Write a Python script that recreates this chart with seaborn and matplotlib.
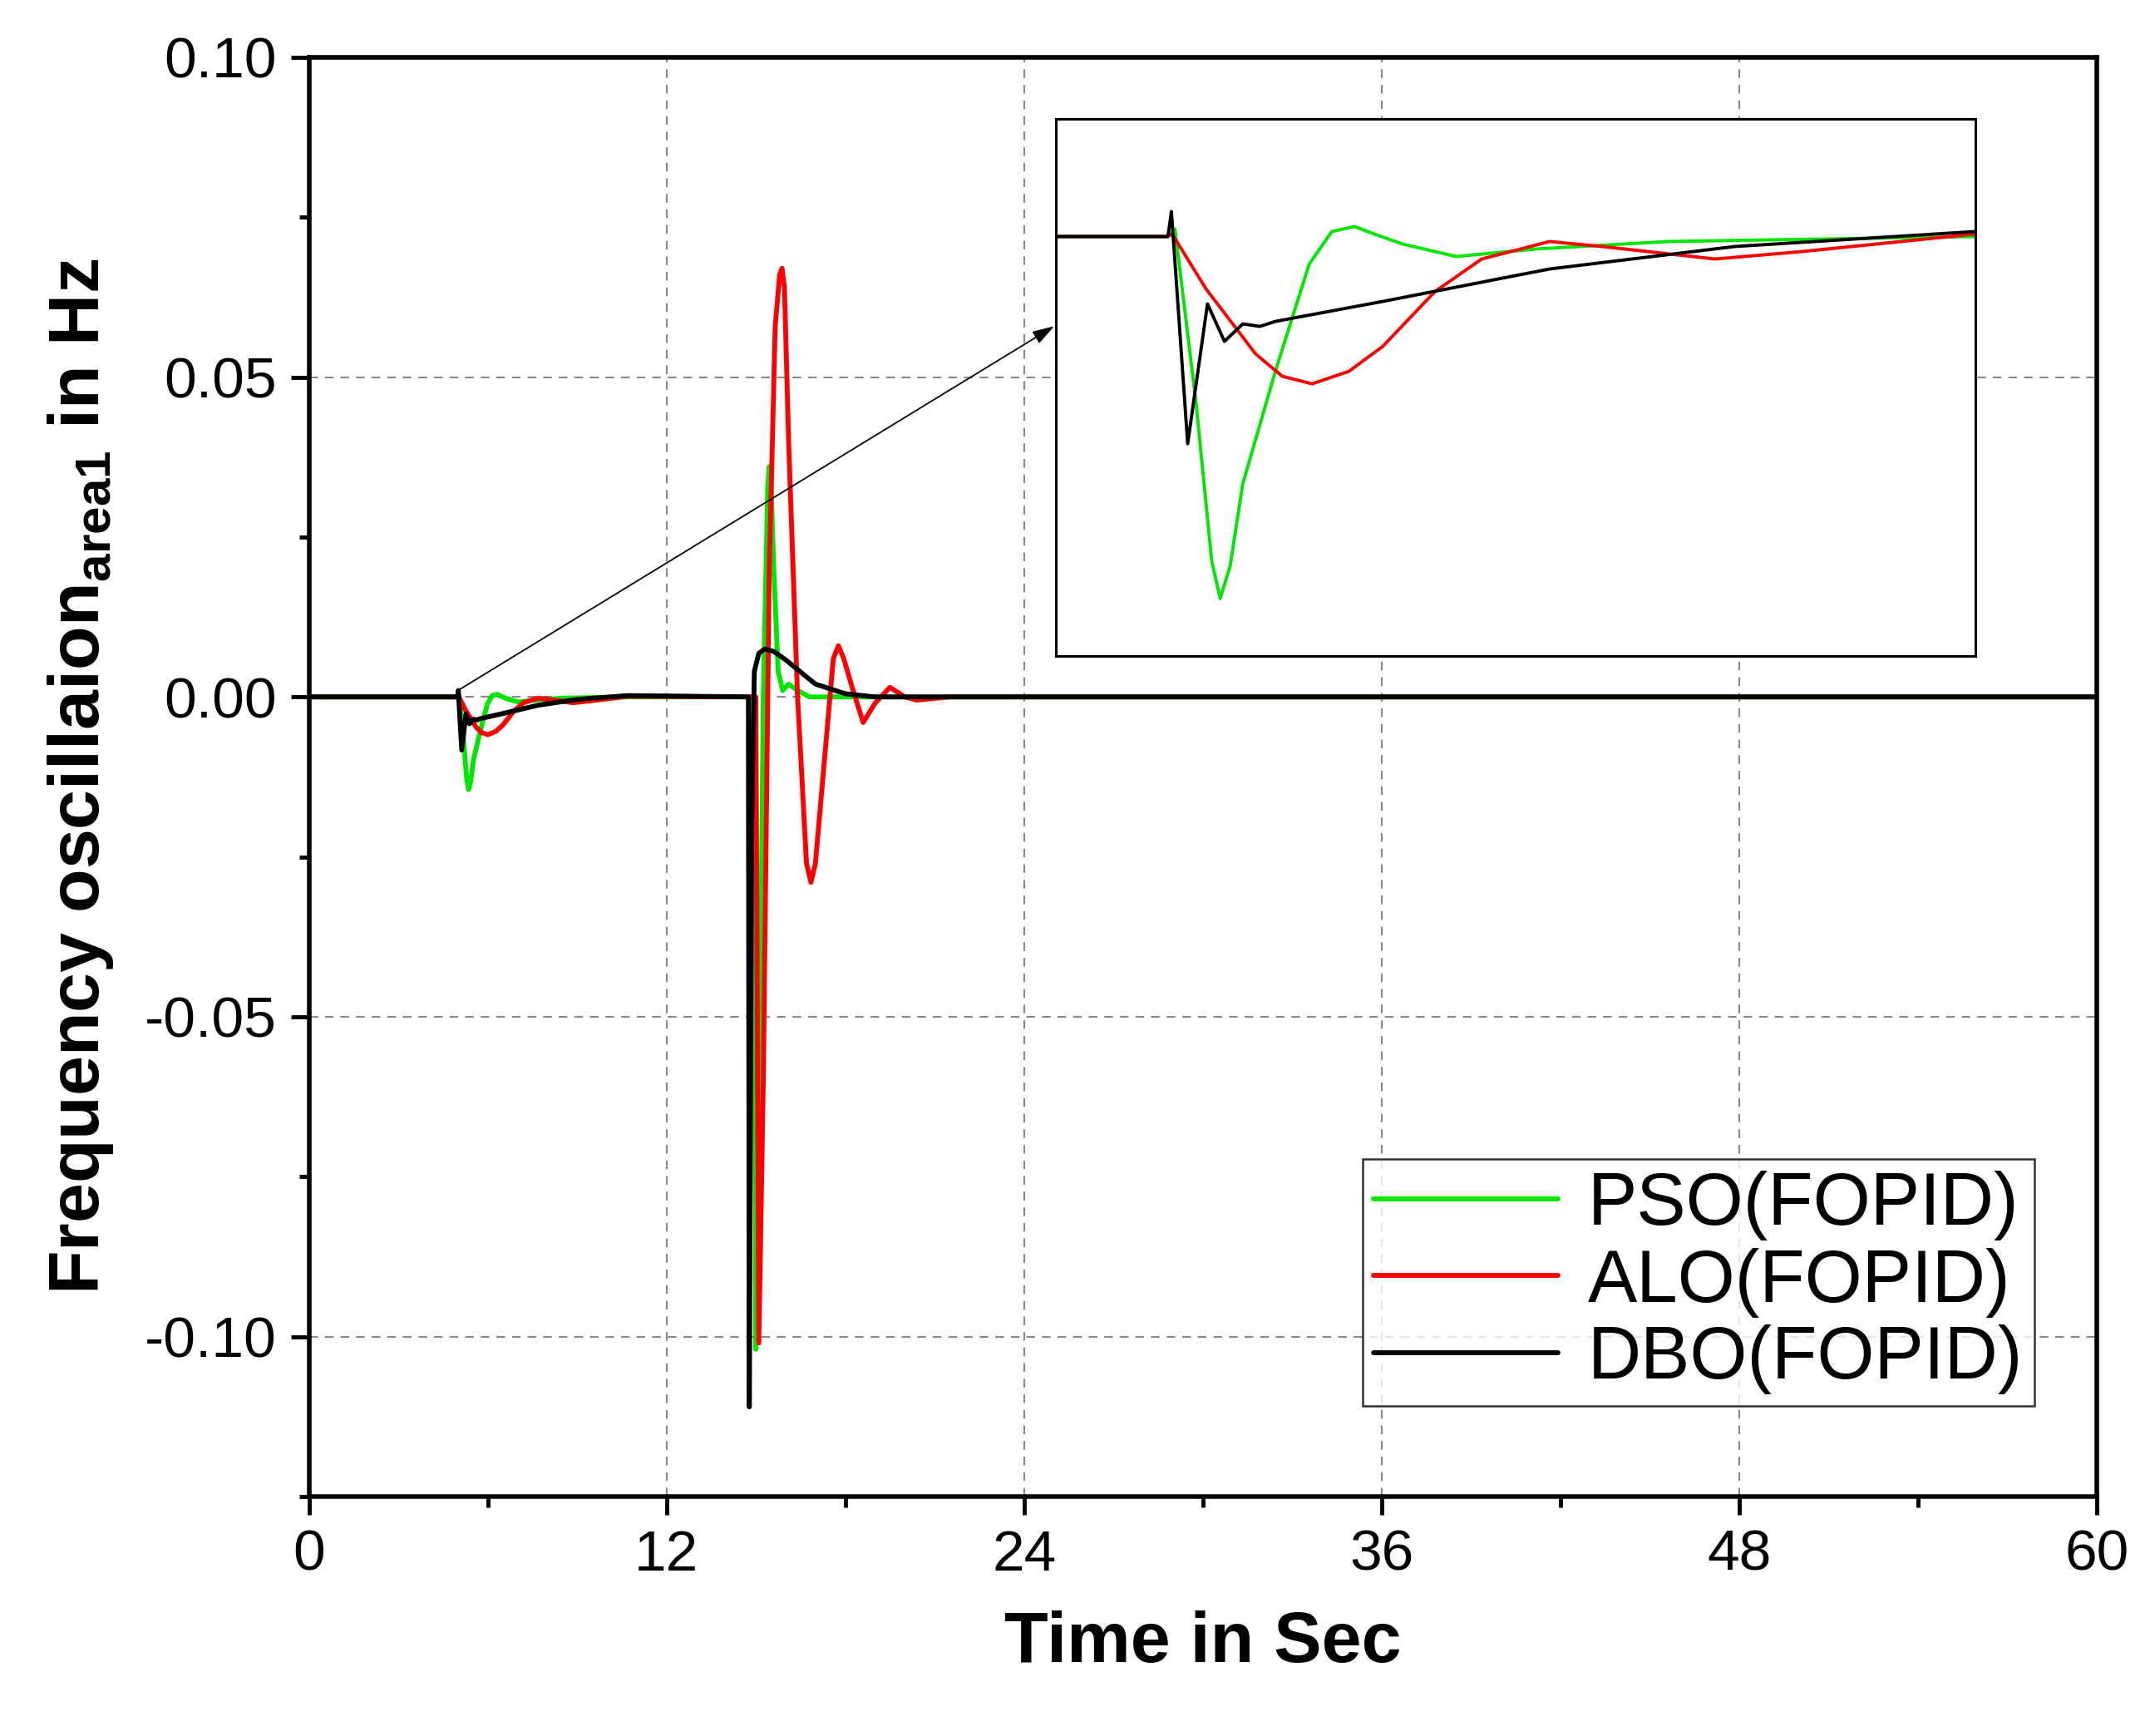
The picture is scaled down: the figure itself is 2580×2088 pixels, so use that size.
import matplotlib
matplotlib.use('Agg')
import matplotlib.pyplot as plt
import seaborn as sns
import numpy as np
import pandas as pd

# hand-read samples (time in s, frequency deviation in Hz)
t_pso = [0, 4.99, 5.04, 5.19, 5.3, 5.36, 5.43, 5.52, 5.75, 5.99, 6.15, 6.31, 6.45, 6.65, 7.03, 7.59, 8.53, 10.7,
         14.9, 14.95, 15.0, 15.1, 15.25, 15.4, 15.45, 15.52, 15.6, 15.75, 15.9, 16.1, 16.4, 16.8, 17.5, 60]
v_pso = [0, 0, 0.0003, -0.0067, -0.0130, -0.0145, -0.0132, -0.0099, -0.0054, -0.0011, 0.0002, 0.0004, 0.0001, -0.0003, -0.0008, -0.0005, -0.0002, 0,
         0, -0.03, -0.102, -0.07, 0.0, 0.033, 0.036, 0.032, 0.02, 0.004, 0.001, 0.002, 0.001, 0.0, 0.0, 0]

t_alo = [0, 4.99, 5.02, 5.26, 5.61, 5.8, 6.01, 6.27, 6.51, 6.88, 7.21, 7.69, 8.06, 8.86, 9.48, 10.7,
         15.0, 15.1, 15.25, 15.45, 15.65, 15.8, 15.88, 15.96, 16.1, 16.4, 16.7, 16.85, 17.0, 17.3, 17.6, 17.77, 17.95, 18.2, 18.6, 19.0, 19.5, 20.0, 20.4, 21.5, 60]
v_alo = [0, 0, 0.0001, -0.0021, -0.0047, -0.0056, -0.0059, -0.0054, -0.0044, -0.0022, -0.0009, -0.0002, -0.0004, -0.0009, -0.0006, 0.0001,
         0, -0.101, -0.06, 0.02, 0.058, 0.066, 0.067, 0.064, 0.04, 0.0, -0.026, -0.029, -0.026, -0.01, 0.006, 0.008, 0.006, 0.002, -0.004, -0.001, 0.0015, 0.0, -0.0005, 0.0, 0]

t_dbo = [0, 4.99, 5.015, 5.13, 5.27, 5.39, 5.52, 5.64, 5.75, 6.51, 7.69, 9.0, 10.7,
         14.75, 14.78, 14.86, 14.95, 15.1, 15.3, 15.6, 16.0, 17.0, 18.0, 19.0, 60]
v_dbo = [0, 0, 0.001, -0.0083, -0.0027, -0.0042, -0.0035, -0.0036, -0.0034, -0.0026, -0.0013, -0.0004, 0.0002,
         0, -0.111, -0.02, 0.004, 0.0068, 0.0075, 0.0071, 0.0058, 0.002, 0.0005, 0.0, 0]

series = [('PSO(FOPID)', t_pso, v_pso, '#00e600'),
          ('ALO(FOPID)', t_alo, v_alo, '#ff0000'),
          ('DBO(FOPID)', t_dbo, v_dbo, '#000000')]

sns.set_style('white')
plt.rcParams['font.family'] = ['Liberation Sans', 'DejaVu Sans']
plt.rcParams['mathtext.fontset'] = 'custom'
plt.rcParams['mathtext.bf'] = 'Liberation Sans:bold'
plt.rcParams['mathtext.rm'] = 'Liberation Sans'
plt.rcParams['text.color'] = 'black'
plt.rcParams['axes.labelcolor'] = 'black'
plt.rcParams['xtick.color'] = 'black'
plt.rcParams['ytick.color'] = 'black'

fig = plt.figure(figsize=(25.8, 20.88), dpi=100)
ax = fig.add_axes([0.144, 0.138, 0.8335, 0.829])

for name, t, v, c in series:
    df = pd.DataFrame({'t': t, 'v': v})
    sns.lineplot(data=df, x='t', y='v', ax=ax, color=c, lw=4.2, label=name, sort=False)

ax.set_xlim(0, 60)
ax.set_ylim(-0.125, 0.10)
ax.set_xticks([0, 12, 24, 36, 48, 60])
ax.set_xticks([6, 18, 30, 42, 54], minor=True)
ax.set_yticks([-0.10, -0.05, 0.0, 0.05, 0.10])
ax.set_yticks([-0.125, -0.075, -0.025, 0.025, 0.075], minor=True)
ax.set_yticklabels(['-0.10', '-0.05', '0.00', '0.05', '0.10'])
ax.grid(True, which='major', color='#888888', ls=(0, (5, 4)), lw=1.5)
ax.tick_params(which='major', direction='out', length=16, width=3.5, labelsize=50, left=True, bottom=True, pad=12)
ax.tick_params(which='minor', direction='out', length=9, width=3.5, left=True, bottom=True)
for s in ax.spines.values():
    s.set_linewidth(4)
    s.set_color('black')
ax.set_xlabel('Time in Sec', fontsize=62, fontweight='bold', labelpad=25)
ax.set_ylabel(r'Frequency oscillaion$_{\mathbf{area1}}$ in Hz', fontsize=62, fontweight='bold', labelpad=25)

leg = ax.legend(loc='lower right', bbox_to_anchor=(0.965, 0.063), fontsize=64, frameon=True,
                fancybox=False, edgecolor='black', handlelength=2.5, handletextpad=0.4,
                borderpad=0.15, labelspacing=0.1, borderaxespad=0)
leg.get_frame().set_linewidth(1.8)

# inset zoom on the first disturbance
axin = ax.inset_axes([0.418, 0.584, 0.514, 0.373])
for name, t, v, c in series:
    df = pd.DataFrame({'t': t, 'v': v})
    sns.lineplot(data=df, x='t', y='v', ax=axin, color=c, lw=2.8, sort=False, legend=False)
axin.set_xlim(4.2, 10.7)
axin.set_ylim(-0.0168, 0.0047)
axin.set_xticks([])
axin.set_yticks([])
axin.set_xlabel('')
axin.set_ylabel('')
for s in axin.spines.values():
    s.set_linewidth(2.2)
    s.set_color('black')

ax.annotate('', xy=(0.418, 0.814), xycoords='axes fraction', xytext=(5.0, 0.001), textcoords='data',
            arrowprops=dict(arrowstyle='-|>,head_length=1.6,head_width=0.5', color='black', lw=1.3))

fig.savefig('out.png', dpi=100)
